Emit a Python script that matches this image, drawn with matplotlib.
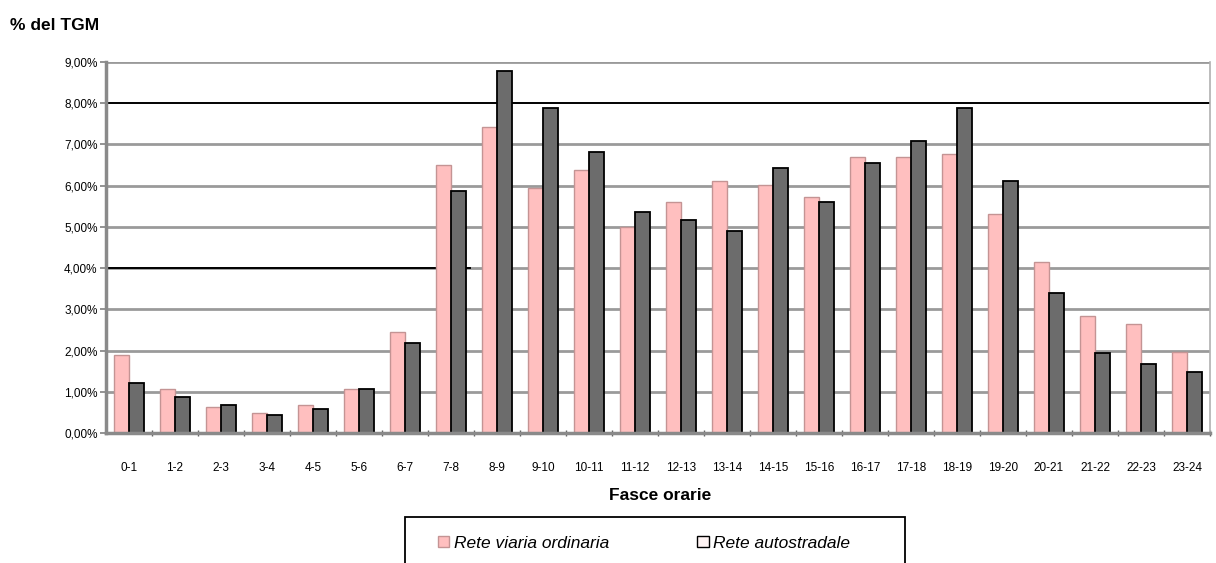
import numpy as np
import matplotlib
matplotlib.use("Agg")
import matplotlib.pyplot as plt
from matplotlib.patches import Patch, Rectangle
from matplotlib.ticker import FuncFormatter, FixedLocator

plt.rcParams['font.family'] = ['Liberation Sans', 'DejaVu Sans']

# fasce orarie e quote percentuali del traffico giornaliero medio
fasce = ['0-1', '1-2', '2-3', '3-4', '4-5', '5-6', '6-7', '7-8', '8-9', '9-10',
         '10-11', '11-12', '12-13', '13-14', '14-15', '15-16', '16-17', '17-18',
         '18-19', '19-20', '20-21', '21-22', '22-23', '23-24']
ordinaria = [1.89, 1.07, 0.63, 0.49, 0.68, 1.07, 2.45, 6.50, 7.43, 5.95,
             6.38, 5.00, 5.61, 6.12, 6.02, 5.73, 6.70, 6.70, 6.77, 5.32,
             4.15, 2.84, 2.65, 1.97]
autostradale = [1.21, 0.87, 0.68, 0.44, 0.58, 1.07, 2.18, 5.87, 8.79, 7.89,
                6.82, 5.36, 5.17, 4.90, 6.43, 5.61, 6.55, 7.09, 7.89, 6.12,
                3.40, 1.94, 1.67, 1.48]
serie = ['Rete viaria ordinaria', 'Rete autostradale']

c_rosa = '#ffbfbf'
c_rosa_bordo = '#c49494'
c_grigio = '#6c6c6c'
c_griglia = '#9a9a9a'

W, H = 1216, 563
fig = plt.figure(figsize=(W / 100, H / 100), dpi=100)
ax = fig.add_axes([106 / W, 1 - 433 / H, 1104 / W, 371 / H])

x = np.arange(len(fasce))
w = 0.32
ax.bar(x - w / 2, ordinaria, width=w, color=c_rosa, edgecolor=c_rosa_bordo,
       linewidth=1.0, zorder=2)
ax.bar(x + w / 2, autostradale, width=w, color=c_grigio, edgecolor='black',
       linewidth=1.3, zorder=2)

ax.set_xlim(-0.5, len(fasce) - 0.5)
ax.set_ylim(0, 9)

# griglia orizzontale: grigia, con la linea dell'8% nera
for v in range(1, 10):
    if v == 8:
        ax.axhline(v, color='black', lw=1.4, zorder=1)
    else:
        ax.axhline(v, color=c_griglia, lw=2.0, zorder=1)
ax.axhline(4, xmax=0.33, color='black', lw=1.4, zorder=1.5)

ax.yaxis.set_major_locator(FixedLocator(np.arange(0, 10)))
ax.yaxis.set_major_formatter(FuncFormatter(lambda v, p: ('%.2f%%' % v).replace('.', ',')))
ax.tick_params(axis='y', length=4, width=1.2, color='#808080', labelsize=8.5, pad=2)

# tacche sull'asse x tra una fascia e l'altra, etichette al centro
ax.set_xticks(x)
ax.set_xticklabels(fasce, fontsize=8.5)
ax.tick_params(axis='x', length=0, pad=21)
ax.set_xticks(np.arange(0.5, len(fasce), 1), minor=True)
ax.tick_params(axis='x', which='minor', length=5, width=1.0, color='#606060', direction='inout')

for s in ['left', 'bottom']:
    ax.spines[s].set_color('#8a8a8a')
    ax.spines[s].set_linewidth(2.5)
ax.spines['right'].set_color('#b0b0b0')
ax.spines['right'].set_linewidth(1.2)
ax.spines['top'].set_visible(False)

fig.text(10 / W, 1 - 25 / H, '% del TGM', fontsize=12.5, fontweight='bold',
         va='center', ha='left')
fig.text(660 / W, 1 - 495 / H, 'Fasce orarie', fontsize=12.5, fontweight='bold',
         va='center', ha='center')

# riquadro della legenda, tagliato dal bordo inferiore
fig.patches.append(Rectangle((405 / W, -0.05), 500 / W, 0.05 + 1 - 517 / H,
                             transform=fig.transFigure, facecolor='white',
                             edgecolor='black', lw=1.3))
handles = [Patch(facecolor=c_rosa, edgecolor=c_rosa_bordo, lw=1.0),
           Patch(facecolor='#fff4f4', edgecolor='black', lw=1.0)]
fig.legend(handles, serie, loc='center left',
           bbox_to_anchor=(438 / W, 1 - 543 / H), ncol=2,
           prop={'style': 'italic', 'size': 12.5}, frameon=False,
           borderpad=0, borderaxespad=0, handlelength=0.65, handleheight=0.65,
           handletextpad=0.25, columnspacing=5.1)

fig.savefig('out.png', dpi=100)
